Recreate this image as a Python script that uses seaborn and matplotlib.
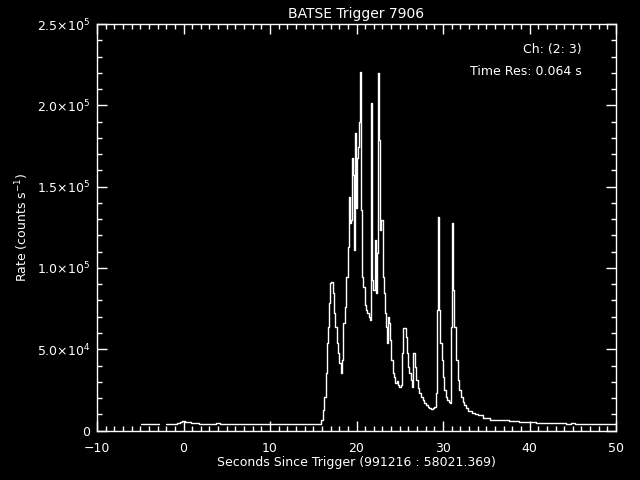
import numpy as np
import pandas as pd
import seaborn as sns
import matplotlib.pyplot as plt
from matplotlib.ticker import MultipleLocator

# light curve (seconds since trigger, counts/s)
pre_time = [-4.9, -4.4, -3.9, -3.4, -2.85]
pre_rate = [3800, 3800, 3800, 3800, 3800]

bg_time = [-2.0, -1.5, -1.0, -0.5, -0.25, 0.0, 0.25, 0.5, 0.75, 1.0, 1.5, 2.0, 2.5, 3.0, 3.5,
           4.0, 4.5, 5.0, 5.5, 6.0, 6.5, 7.0, 7.5, 8.0, 8.5, 9.0, 9.5, 10.0, 10.5, 11.0,
           11.5, 12.0, 12.5, 13.0, 13.5, 14.0, 14.5, 15.0, 15.5]
bg_rate = [3900, 4300, 4000, 4600, 5200, 5900, 5500, 5400, 5300, 4800, 4700, 4300, 4100, 4300, 4000,
           4400, 4100, 4300, 3900, 4200, 4000, 4300, 4000, 4100, 3800, 4200, 4000, 3800, 4100, 3900,
           4200, 4000, 3800, 4300, 4000, 4100, 3900, 4200, 4000]

burst_time = [15.86, 15.98, 16.16, 16.36, 16.47, 16.62, 16.74, 16.86, 17.02, 17.17,
              17.32, 17.48, 17.63, 17.78, 17.94, 18.09, 18.24, 18.40, 18.55, 18.71,
              18.87, 19.05, 19.17, 19.25, 19.36, 19.48, 19.56, 19.63, 19.75, 19.86,
              20.02, 20.09, 20.21, 20.32, 20.44, 20.55, 20.72, 20.87, 21.02, 21.18,
              21.33, 21.48, 21.60, 21.71, 21.87, 22.02, 22.14, 22.25, 22.40, 22.52,
              22.64, 22.72, 22.83, 22.95, 23.06, 23.18, 23.33, 23.49, 23.61, 23.72,
              23.84, 23.95, 24.10, 24.25, 24.42, 24.57, 24.72, 24.88, 25.03, 25.23,
              25.34, 25.46, 25.61, 25.72, 25.87, 26.03, 26.18, 26.34, 26.50, 26.61,
              26.73, 26.84, 26.96, 27.14, 27.34, 27.54, 27.72, 27.92, 28.12, 28.30,
              28.50, 28.69, 28.88, 29.08, 29.27, 29.39, 29.50, 29.62, 29.77, 29.92,
              30.08, 30.23, 30.43, 30.58, 30.73, 30.89, 31.01, 31.12, 31.24, 31.39,
              31.58, 31.77, 31.97, 32.16, 32.35, 32.54, 32.74, 33.12, 33.50, 33.90,
              34.28, 34.86, 36.01, 37.17, 37.98]
burst_rate = [4000, 6500, 12600, 20800, 35400, 53800, 63900, 78400, 90500, 91500,
              84400, 72300, 63800, 53800, 47700, 41500, 35200, 43400, 66100, 76100,
              94600, 113000, 143800, 127600, 129500, 153000, 167400, 157100, 111000, 182800,
              136800, 167400, 174500, 189900, 220700, 135600, 94600, 88400, 77200, 74100,
              72300, 70000, 68000, 201200, 92600, 86400, 117200, 84600, 109200, 219700,
              178700, 123300, 129500, 129500, 94600, 84600, 72300, 63800, 53800, 70000,
              66100, 55700, 43400, 35400, 32900, 29200, 30400, 28000, 26900, 28000,
              47700, 62900, 62900, 57700, 47700, 39200, 35200, 31100, 26900, 47500,
              47800, 39200, 31100, 26000, 22900, 20800, 18800, 17100, 15700, 14300,
              13700, 13400, 13700, 14600, 22900, 74100, 131500, 74100, 53800, 43400,
              33100, 24900, 20800, 18800, 17700, 16700, 63800, 127400, 86400, 63800,
              43400, 31100, 24900, 20800, 17700, 15700, 13700, 12200, 10900, 10100,
              9300, 7500, 6500, 6300, 5800]

tail_time = [38.5, 39.0, 39.5, 40.0, 40.5, 41.0, 41.5, 42.0, 42.5, 43.0, 43.5, 44.0,
             44.5, 45.0, 45.5, 46.0, 46.5, 47.0, 47.5, 48.0, 48.5, 49.0, 49.5, 50.0]
tail_rate = [5600, 5500, 5300, 5100, 5000, 4800, 4900, 4700, 4800, 4500, 4400, 4600,
             4300, 4400, 4200, 4300, 4100, 4300, 4000, 4200, 4100, 4000, 4200, 4100]

ytick_vals = [0, 5.0e4, 1.0e5, 1.5e5, 2.0e5, 2.5e5]
ytick_labels = ['0', r'5.0$\times$10$^{4}$', r'1.0$\times$10$^{5}$', r'1.5$\times$10$^{5}$',
                r'2.0$\times$10$^{5}$', r'2.5$\times$10$^{5}$']
xtick_vals = [-10, 0, 10, 20, 30, 40, 50]

sns.set_style("ticks", {"axes.facecolor": "black", "figure.facecolor": "black",
                        "axes.edgecolor": "white", "text.color": "white",
                        "xtick.color": "white", "ytick.color": "white",
                        "axes.labelcolor": "white"})
plt.rcParams['font.family'] = ['DejaVu Sans']
plt.rcParams['mathtext.default'] = 'regular'

df = pd.concat([
    pd.DataFrame({'t': pre_time, 'rate': pre_rate, 'seg': 0}),
    pd.DataFrame({'t': bg_time + burst_time + tail_time,
                  'rate': bg_rate + burst_rate + tail_rate, 'seg': 1}),
])

fig = plt.figure(figsize=(6.4, 4.8), dpi=100)
ax = fig.add_axes([0.1516, 0.103, 0.811, 0.847])
sns.lineplot(data=df, x='t', y='rate', units='seg', estimator=None, color='white',
             drawstyle='steps-mid', linewidth=1.0, ax=ax)

ax.set_xlim(-10, 50)
ax.set_ylim(0, 2.5e5)
ax.set_xticks(xtick_vals)
ax.set_xticklabels(['\u221210', '0', '10', '20', '30', '40', '50'])
ax.set_yticks(ytick_vals)
ax.set_yticklabels(ytick_labels)
ax.xaxis.set_minor_locator(MultipleLocator(1))
ax.yaxis.set_minor_locator(MultipleLocator(1e4))
ax.tick_params(which='both', direction='in', top=True, right=True, colors='white',
               labelsize=9, width=1)
ax.tick_params(which='major', length=7)
ax.tick_params(which='minor', length=3.5)
ax.tick_params(axis='x', which='major', pad=8)
ax.tick_params(axis='y', which='major', pad=5)
for s in ax.spines.values():
    s.set_color('white')
    s.set_linewidth(1)

ax.set_xlabel('Seconds Since Trigger (991216 : 58021.369)', fontsize=9, labelpad=1)
ax.set_ylabel('Rate (counts s$^{-1}$)', fontsize=9)
ax.set_title('BATSE Trigger 7906', fontsize=10, color='white', pad=4)
ax.text(0.933, 0.953, 'Ch: (2: 3)', transform=ax.transAxes, ha='right', va='top', fontsize=9)
ax.text(0.933, 0.90, 'Time Res: 0.064 s', transform=ax.transAxes, ha='right', va='top', fontsize=9)

fig.savefig('out.png', dpi=100, facecolor='black')
